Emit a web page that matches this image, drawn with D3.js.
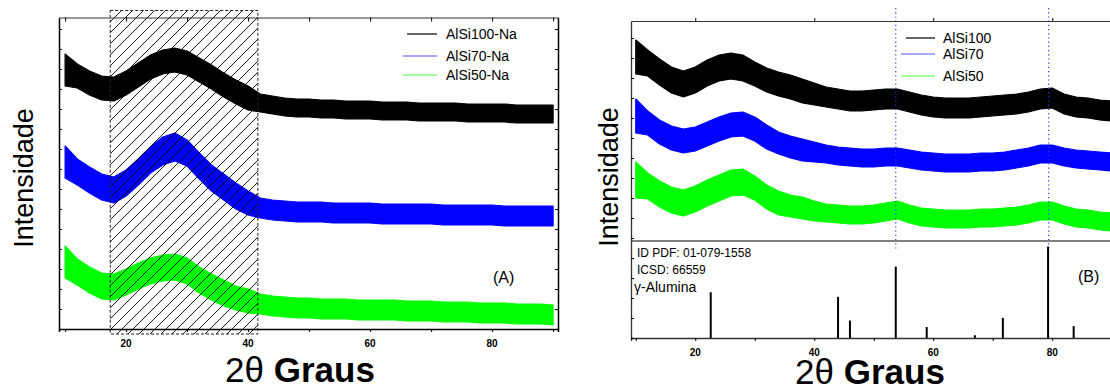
<!DOCTYPE html>
<html>
<head>
<meta charset="utf-8">
<script src="https://cdn.jsdelivr.net/npm/d3@7"></script>
<style>
  body { margin: 0; background: #fff; }
  svg { font-family: "Liberation Sans", Arial, sans-serif; }
</style>
</head>
<body>
<svg id="chart" width="1110" height="389"></svg>
<script>
// 2theta grid (degrees)
var twoTheta = [10,12,14,16,18,20,22,24,26,28,30,32,34,36,38,40,42,44,46,48,50,
  52,54,56,58,60,62,64,66,68,70,72,74,76,78,80,82,84,86,88,90];

// panel A (stacked, a.u.) - centre of noisy trace
var aBlack = [259,253,246,241,240,246,254,262,267,269,266,259,252,244,237,231,226,224,222,221,
  221,220,220,219,219,219,218,218,218,217,217,217,217,216,216,216,216,215,215,215,215];
var aBlue = [167,157,149,142,139,146,157,169,178,182,176,163,151,142,133,126,121,119,118,117,
  117,117,116,116,116,116,115,115,115,115,115,114,114,114,114,114,113,113,113,113,113];
var aGreen = [67,57,49,43,42,47,53,58,61,62,58,49,42,36,31,28,25,23,22,21,
  21,20,20,20,19,19,19,19,18,18,18,17,17,17,16,16,16,15,15,15,14];
// half height of the noise band
var aBlackNoise = [16,12,12,12,12,12,12,12,12,12,12,12,12,12,12,12,9,9,9,9,
  9,9,9,9,9,9,9,9,9,9,9,9,9,9,9,9,9,9,9,9,9];
var aBlueNoise = [16,13,13,13,13,13,13,13,14,14,13,13,13,13,13,12,10,10,10,10,
  10,10,10,10,10,10,10,10,10,10,10,10,10,10,10,10,10,10,10,10,10];
var aGreenNoise = [16,13,13,13,13,13,13,13,13,13,13,13,13,13,12,12,10,10,10,10,
  10,10,10,10,10,10,10,10,10,10,10,10,10,10,10,10,10,10,10,10,10];

// panel B
var bBlack = [281,275,266,258,254,258,265,270,272,270,264,258,254,251,247,244,241,239,237,237,
  238,239,239,236,233,231,230,230,230,231,232,233,234,236,239,240,234,231,230,228,227];
var bBlue = [222,215,206,200,197,199,204,209,213,214,209,201,195,191,188,186,184,182,181,180,
  180,181,181,179,177,176,175,175,175,176,176,177,179,181,184,184,181,179,178,177,176];
var bGreen = [158,152,144,138,135,139,145,150,155,156,150,141,135,132,130,127,125,124,123,123,
  124,126,128,124,121,120,119,119,119,120,120,121,122,124,127,127,123,120,119,117,116];
var bBlackNoise = [17,13,13,13,13,13,13,13,13,13,12,12,12,12,12,11,10,10,10,10,
  10,10,10,10,10,10,10,10,10,10,10,10,10,10,10,10,10,10,10,10,10];
var bBlueNoise = [17,12,12,12,12,12,12,12,12,12,12,12,11,11,11,10,9,9,9,9,
  9,9,9,9,9,9,9,9,9,9,9,9,9,9,9,9,9,9,9,9,9];
var bGreenNoise = [18,13,13,13,13,13,13,13,13,13,12,12,12,11,11,10,9,9,9,9,
  9,9,9,9,9,9,9,9,9,9,9,9,9,9,9,9,9,9,9,9,9];

// gamma-alumina reference pattern (relative intensity)
var aluminaPos = [22.6, 44.0, 46.0, 53.7, 58.9, 67.0, 71.7, 79.3, 83.6];
var aluminaInt = [50, 45, 19, 78, 12, 3, 22, 100, 13];
var refLines = [53.7, 79.4];

var namesA = ["AlSi100-Na", "AlSi70-Na", "AlSi50-Na"];
var namesB = ["AlSi100", "AlSi70", "AlSi50"];
var colors = ["#000000", "#0000ff", "#00ff00"];
var legendColors = ["#000000", "#5555ff", "#44ff44"];

var xTicks = [10,20,30,40,50,60,70,80,90];
var xLabels = [20,40,60,80];

var svg = d3.select("#chart");

function bandData(centre, noise) {
  return twoTheta.map(function (t, i) {
    return { t: t, lo: centre[i] - noise[i], hi: centre[i] + noise[i] };
  });
}

// ---------------- panel A ----------------
var xA = d3.scaleLinear().domain([9, 90.8]).range([59, 558]);
var yA = d3.scaleLinear().domain([0, 311.5]).range([329, 17.5]);

var defs = svg.append("defs");
defs.append("pattern")
  .attr("id", "hatch")
  .attr("patternUnits", "userSpaceOnUse")
  .attr("width", 11)
  .attr("height", 11)
  .append("path")
  .attr("d", "M0,11 L11,0 M-2,2 L2,-2 M9,13 L13,9")
  .attr("stroke", "#000")
  .attr("stroke-width", 0.9);

var gA = svg.append("g");

var seriesA = [aBlack, aBlue, aGreen];
var noiseA = [aBlackNoise, aBlueNoise, aGreenNoise];
seriesA.forEach(function (s, i) {
  var area = d3.area()
    .x(function (d) { return xA(d.t); })
    .y0(function (d) { return yA(d.lo); })
    .y1(function (d) { return yA(d.hi); });
  gA.append("path")
    .datum(bandData(s, noiseA[i]))
    .attr("d", area)
    .attr("fill", colors[i])
    .attr("stroke", colors[i])
    .attr("stroke-width", 1.2)
    .attr("stroke-linejoin", "round");
});

// hatched region (amorphous halo)
gA.append("rect")
  .attr("x", xA(17.4))
  .attr("y", 10.5)
  .attr("width", xA(41.6) - xA(17.4))
  .attr("height", 334 - 10.5)
  .attr("fill", "url(#hatch)")
  .attr("stroke", "#222")
  .attr("stroke-width", 1)
  .attr("stroke-dasharray", "3,2");

// axes A
gA.append("g")
  .attr("transform", "translate(0,329)")
  .call(d3.axisBottom(xA).tickValues(xTicks).tickSize(3).tickFormat(""))
  .call(function (g) { g.select(".domain").attr("stroke-width", 1.5); });
gA.append("g")
  .attr("transform", "translate(0,17.5)")
  .call(d3.axisTop(xA).tickValues(xTicks).tickSizeInner(-4).tickSizeOuter(0).tickFormat(""))
  .call(function (g) { g.select(".domain").attr("stroke", "#333").attr("stroke-width", 1.2); });
gA.append("g")
  .attr("transform", "translate(59,0)")
  .call(d3.axisLeft(yA).ticks(16).tickSizeInner(-3).tickSizeOuter(0).tickFormat(""))
  .call(function (g) { g.select(".domain").attr("stroke-width", 1.5); });
gA.append("g")
  .attr("transform", "translate(558,0)")
  .call(d3.axisRight(yA).ticks(16).tickSizeInner(-3).tickSizeOuter(0).tickFormat(""))
  .call(function (g) { g.select(".domain").attr("stroke-width", 1.5); });

gA.selectAll(".xlabA")
  .data(xLabels)
  .enter()
  .append("text")
  .attr("x", function (d) { return xA(d); })
  .attr("y", 347)
  .attr("text-anchor", "middle")
  .attr("font-size", "10px")
  .attr("font-weight", "bold")
  .text(function (d) { return d; });

// legend A
namesA.forEach(function (n, i) {
  var ly = [34, 56, 75][i];
  gA.append("line")
    .attr("x1", i === 0 ? 407 : 403).attr("x2", 437)
    .attr("y1", ly).attr("y2", ly)
    .attr("stroke", legendColors[i]).attr("stroke-width", 1.2);
  gA.append("text")
    .attr("x", 446).attr("y", ly + 5)
    .attr("font-size", "14px")
    .text(n);
});

gA.append("text")
  .attr("x", 493).attr("y", 283)
  .attr("font-size", "16px")
  .text("(A)");

gA.append("text")
  .attr("transform", "translate(33,178) rotate(-90)")
  .attr("text-anchor", "middle")
  .attr("font-size", "27px")
  .text("Intensidade");

var xtA = gA.append("text")
  .attr("x", 300).attr("y", 382)
  .attr("text-anchor", "middle")
  .attr("font-size", "35px");
xtA.append("tspan").text("2\u03b8 ");
xtA.append("tspan").attr("font-weight", "bold").text("Graus");

// ---------------- panel B ----------------
var xB = d3.scaleLinear().domain([9.2, 90.8]).range([631, 1116.5]);
var yB = d3.scaleLinear().domain([0, 317]).range([338, 21]);
var yStick = d3.scaleLinear().domain([0, 106]).range([338, 241]);

var gB = svg.append("g");

var seriesB = [bBlack, bBlue, bGreen];
var noiseB = [bBlackNoise, bBlueNoise, bGreenNoise];
seriesB.forEach(function (s, i) {
  var area = d3.area()
    .x(function (d) { return xB(d.t); })
    .y0(function (d) { return yB(d.lo); })
    .y1(function (d) { return yB(d.hi); });
  gB.append("path")
    .datum(bandData(s, noiseB[i]))
    .attr("d", area)
    .attr("fill", colors[i])
    .attr("stroke", colors[i])
    .attr("stroke-width", 1.2)
    .attr("stroke-linejoin", "round");
});

// dotted guide lines
gB.selectAll(".ref")
  .data(refLines)
  .enter()
  .append("line")
  .attr("x1", function (d) { return xB(d); })
  .attr("x2", function (d) { return xB(d); })
  .attr("y1", 8)
  .attr("y2", 250)
  .attr("stroke", "#3333ff")
  .attr("stroke-width", 1.2)
  .attr("stroke-dasharray", "1.2,3");

// separator between patterns and reference card
gB.append("line")
  .attr("x1", 631).attr("x2", 1110)
  .attr("y1", 241).attr("y2", 241)
  .attr("stroke", "#808080")
  .attr("stroke-width", 2);

// reference sticks
gB.selectAll(".stick")
  .data(aluminaPos)
  .enter()
  .append("line")
  .attr("x1", function (d) { return xB(d); })
  .attr("x2", function (d) { return xB(d); })
  .attr("y1", yStick(0))
  .attr("y2", function (d, i) { return yStick(aluminaInt[i]); })
  .attr("stroke", "#000")
  .attr("stroke-width", 2);

// axes B
gB.append("g")
  .attr("transform", "translate(0,338)")
  .call(d3.axisBottom(xB).tickValues(xTicks).tickSize(3).tickFormat(""))
  .call(function (g) { g.select(".domain").attr("stroke", "#333").attr("stroke-width", 1.3); });
gB.append("g")
  .attr("transform", "translate(0,21)")
  .call(d3.axisTop(xB).tickValues(xLabels).tickSizeInner(3).tickSizeOuter(0).tickFormat(""))
  .call(function (g) { g.select(".domain").attr("stroke", "#333").attr("stroke-width", 1.2); });
gB.append("g")
  .attr("transform", "translate(631,0)")
  .call(d3.axisLeft(yB).ticks(22).tickSizeInner(-3).tickSizeOuter(0).tickFormat(""))
  .call(function (g) { g.select(".domain").attr("stroke", "#333").attr("stroke-width", 1.3); });

gB.selectAll(".xlabB")
  .data(xLabels)
  .enter()
  .append("text")
  .attr("x", function (d) { return xB(d); })
  .attr("y", 356)
  .attr("text-anchor", "middle")
  .attr("font-size", "10px")
  .attr("font-weight", "bold")
  .text(function (d) { return d; });

// legend B
namesB.forEach(function (n, i) {
  var ly = [38, 54, 76][i];
  gB.append("line")
    .attr("x1", i === 0 ? 906 : 901).attr("x2", 935)
    .attr("y1", ly).attr("y2", ly)
    .attr("stroke", legendColors[i]).attr("stroke-width", 1.2);
  gB.append("text")
    .attr("x", 943).attr("y", ly + 5)
    .attr("font-size", "14px")
    .text(n);
});

gB.append("text").attr("x", 637).attr("y", 257).attr("font-size", "12px").text("ID PDF: 01-079-1558");
gB.append("text").attr("x", 637).attr("y", 274).attr("font-size", "12px").text("ICSD: 66559");
gB.append("text").attr("x", 634).attr("y", 292).attr("font-size", "14px").text("\u03b3-Alumina");

gB.append("text")
  .attr("x", 1078).attr("y", 282)
  .attr("font-size", "16px")
  .text("(B)");

gB.append("text")
  .attr("transform", "translate(618,177) rotate(-90)")
  .attr("text-anchor", "middle")
  .attr("font-size", "27px")
  .text("Intensidade");

var xtB = gB.append("text")
  .attr("x", 870).attr("y", 384)
  .attr("text-anchor", "middle")
  .attr("font-size", "35px");
xtB.append("tspan").text("2\u03b8 ");
xtB.append("tspan").attr("font-weight", "bold").text("Graus");
</script>
</body>
</html>
